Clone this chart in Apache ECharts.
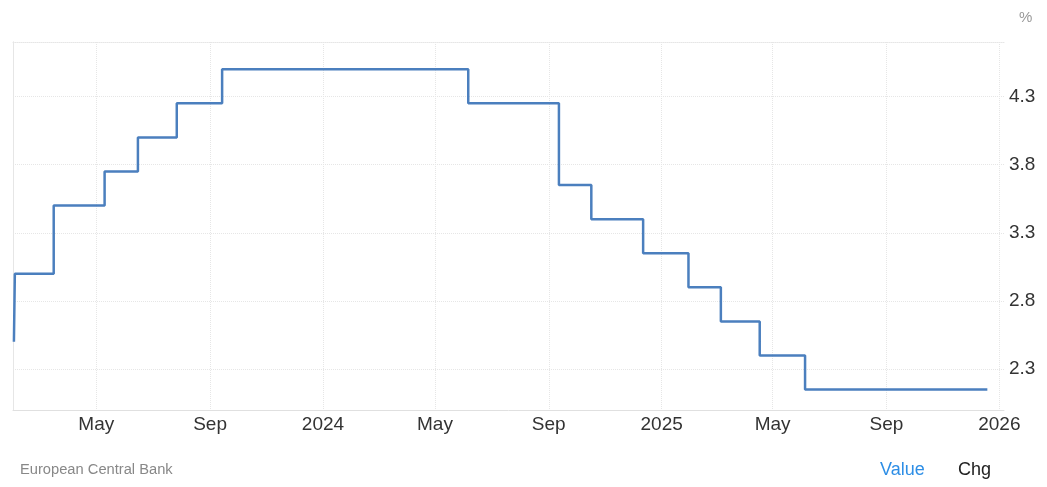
<!DOCTYPE html>
<html>
<head>
<meta charset="utf-8">
<script src="https://cdn.jsdelivr.net/npm/echarts@6/dist/echarts.min.js"></script>
<style>
html,body{margin:0;padding:0;background:#fff;}
#chart{width:1047px;height:487px;}
</style>
</head>
<body>
<div id="chart"></div>
<script>
// Rate change dates and the new rate (%)
const changeDates = ['2023-02-01','2023-02-02','2023-03-16','2023-05-10','2023-06-15','2023-07-27','2023-09-14',
  '2024-06-06','2024-09-12','2024-10-17','2024-12-12','2025-01-30','2025-03-06','2025-04-17','2025-06-05','2025-12-19'];
const rateValues = [2.5, 3.0, 3.5, 3.75, 4.0, 4.25, 4.5, 4.25, 3.65, 3.4, 3.15, 2.9, 2.65, 2.4, 2.15, 2.15];

const xTickDates = ['2023-05-01','2023-09-01','2024-01-01','2024-05-01','2024-09-01','2025-01-01','2025-05-01','2025-09-01','2026-01-01'];
const xTickLabels = ['May','Sep','2024','May','Sep','2025','May','Sep','2026'];
const yTicks = [2.3, 2.8, 3.3, 3.8, 4.3];
const xRange = ['2023-01-31', '2026-01-06'];
const yRange = [2.0, 4.7];

function ts(s){ const p = s.split('-').map(Number); return Date.UTC(p[0], p[1]-1, p[2]); }
const xTickTs = xTickDates.map(ts);
const seriesData = changeDates.map((d,i)=>[ts(d), rateValues[i]]);

const gridColor = '#e6e6e6';
const font = 'Liberation Sans, Arial, sans-serif';
const chart = echarts.init(document.getElementById('chart'), null, {renderer:'canvas'});
chart.setOption({
  animation:false,
  backgroundColor:'#fff',
  grid:{left:13, right:43, top:42, bottom:77, containLabel:false},
  xAxis:[{
    type:'value', min:ts(xRange[0]), max:ts(xRange[1]),
    axisLine:{show:true, lineStyle:{color:'#e0e0e0', width:1}},
    axisTick:{show:false, customValues:xTickTs},
    splitLine:{show:true, lineStyle:{color:gridColor, type:'dotted', width:1}},
    axisLabel:{
      customValues:xTickTs, margin:5,
      color:'#333', fontSize:19, fontFamily:font,
      formatter:function(v){ const i = xTickTs.indexOf(v); return i>=0 ? xTickLabels[i] : ''; }
    }
  },{
    type:'value', position:'top', min:0, max:1, gridIndex:0,
    axisLine:{show:true, lineStyle:{color:gridColor, type:'dotted', width:1}},
    axisTick:{show:false}, axisLabel:{show:false}, splitLine:{show:false}
  }],
  yAxis:[{
    type:'value', position:'right', min:yRange[0], max:yRange[1],
    axisLine:{show:true, lineStyle:{color:gridColor, width:1}},
    axisTick:{show:false, customValues:yTicks},
    splitLine:{show:true, lineStyle:{color:gridColor, type:'dotted', width:1}},
    axisLabel:{
      customValues:yTicks, margin:5,
      color:'#333', fontSize:19, fontFamily:font,
      formatter:function(v){ return v.toFixed(1); }
    }
  },{
    type:'value', position:'left', min:0, max:1,
    axisLine:{show:true, lineStyle:{color:gridColor, width:1}},
    axisTick:{show:false}, axisLabel:{show:false}, splitLine:{show:false}
  }],
  series:[{
    type:'line', step:'end', data:seriesData, xAxisIndex:0, yAxisIndex:0,
    showSymbol:false, symbol:'none',
    lineStyle:{color:'#4b7fbe', width:2.5},
    z:5
  }],
  graphic:[
    {type:'text', left:1019, top:10, style:{text:'%', fill:'#999', fontSize:15, fontFamily:font}},
    {type:'text', left:20, top:462, style:{text:'European Central Bank', fill:'#888', fontSize:14.7, fontFamily:font}},
    {type:'text', left:880, top:461, style:{text:'Value', fill:'#2d8ee6', fontSize:18, fontFamily:font}},
    {type:'text', left:958, top:461, style:{text:'Chg', fill:'#222', fontSize:18, fontFamily:font}}
  ]
});
</script>
</body>
</html>
